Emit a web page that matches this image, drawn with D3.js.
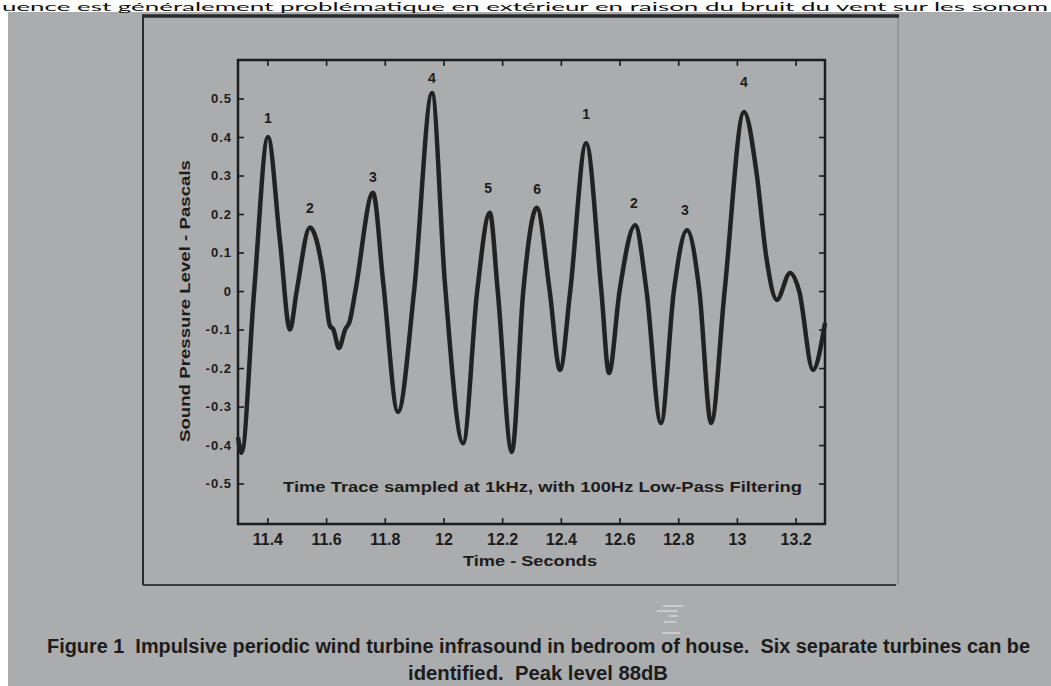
<!DOCTYPE html>
<html>
<head>
<meta charset="utf-8">
<script src="https://cdn.jsdelivr.net/npm/d3@7"></script>
<style>
  body { margin: 0; background: #fff; }
  svg text { font-family: "Liberation Sans", Arial, sans-serif; font-weight: bold; fill: #1c1c1c; }
</style>
</head>
<body>
<div id="chart"></div>
<script>
// values
var timeSec = [11.300, 11.312, 11.355, 11.402, 11.443, 11.477, 11.500, 11.545, 11.589, 11.613,
  11.625, 11.644, 11.665, 11.680, 11.700, 11.760, 11.795, 11.845, 11.900, 11.961,
  12.005, 12.067, 12.115, 12.158, 12.185, 12.233, 12.272, 12.318, 12.362, 12.397,
  12.432, 12.486, 12.538, 12.564, 12.600, 12.653, 12.692, 12.741, 12.785, 12.830,
  12.872, 12.912, 12.958, 13.024, 13.067, 13.100, 13.136, 13.181, 13.212, 13.259, 13.300];
var pressure = [-0.38, -0.42, 0.00, 0.40, 0.13, -0.10, 0.00, 0.165, 0.05, -0.09,
  -0.10, -0.148, -0.10, -0.08, 0.00, 0.255, 0.02, -0.314, 0.00, 0.514,
  0.02, -0.395, 0.00, 0.203, 0.00, -0.418, 0.00, 0.216, 0.00, -0.205,
  0.00, 0.384, 0.00, -0.213, 0.00, 0.171, 0.00, -0.343, 0.00, 0.158,
  0.00, -0.343, 0.00, 0.465, 0.306, 0.088, -0.023, 0.047, 0.00, -0.205, -0.083];

var peakNames = ["1", "2", "3", "4", "5", "6", "1", "2", "3", "4"];
var peakTime = [11.402, 11.545, 11.760, 11.961, 12.152, 12.319, 12.486, 12.649, 12.823, 13.024];
var peakLabelLevel = [0.449, 0.216, 0.296, 0.553, 0.268, 0.265, 0.460, 0.229, 0.210, 0.543];

var xTicks = [11.4, 11.6, 11.8, 12, 12.2, 12.4, 12.6, 12.8, 13, 13.2];
var xTickLabels = ["11.4", "11.6", "11.8", "12", "12.2", "12.4", "12.6", "12.8", "13", "13.2"];
var yTicks = [0.5, 0.4, 0.3, 0.2, 0.1, 0, -0.1, -0.2, -0.3, -0.4, -0.5];
var yTickLabels = ["0.5", "0.4", "0.3", "0.2", "0.1", "0", "-0.1", "-0.2", "-0.3", "-0.4", "-0.5"];

var svgWidth = 1051;
var svgHeight = 686;
var ink = "#1c1c1c";
var paper = "#aaacae";

var svg = d3.select("#chart")
  .append("svg")
  .attr("width", svgWidth)
  .attr("height", svgHeight);

// scanned page
svg.append("rect")
  .attr("x", 8)
  .attr("y", 12)
  .attr("width", svgWidth - 8)
  .attr("height", svgHeight - 12)
  .attr("fill", paper);

// page text above the scan
svg.append("text")
  .attr("x", 2)
  .attr("y", 11)
  .attr("textLength", 1046)
  .attr("lengthAdjust", "spacingAndGlyphs")
  .style("font-family", "Lato, 'Open Sans', sans-serif")
  .style("font-weight", "normal")
  .style("font-size", "12px")
  .style("fill", "#111")
  .text("uence est généralement problématique en extérieur en raison du bruit du vent sur les sonom");

// outer figure frame
svg.append("line").attr("x1", 898).attr("x2", 898).attr("y1", 16).attr("y2", 585)
  .attr("stroke", "#8c8e90").attr("stroke-width", 1.5);
svg.append("line").attr("x1", 143).attr("x2", 143).attr("y1", 16).attr("y2", 585)
  .attr("stroke", "#2a2a2a").attr("stroke-width", 2);
svg.append("line").attr("x1", 143).attr("x2", 896).attr("y1", 585).attr("y2", 585)
  .attr("stroke", "#3a3a3a").attr("stroke-width", 2);
svg.append("line").attr("x1", 142).attr("x2", 899).attr("y1", 16).attr("y2", 16)
  .attr("stroke", "#2a2a2a").attr("stroke-width", 3.5);

// scales
var x = d3.scaleLinear().domain([11.3, 13.3]).range([238, 825]);
var y = d3.scaleLinear().domain([-0.605, 0.6]).range([524, 60]);

// axes with inward ticks
var bottomAxis = d3.axisBottom(x).tickValues(xTicks)
  .tickFormat(function(d, i) { return xTickLabels[i]; })
  .tickSizeInner(-6).tickSizeOuter(0).tickPadding(10);
var topAxis = d3.axisTop(x).tickValues(xTicks).tickFormat("")
  .tickSizeInner(-6).tickSizeOuter(0);
var leftAxis = d3.axisLeft(y).tickValues(yTicks)
  .tickFormat(function(d, i) { return yTickLabels[i]; })
  .tickSizeInner(-6).tickSizeOuter(0).tickPadding(6);
var rightAxis = d3.axisRight(y).tickValues(yTicks).tickFormat("")
  .tickSizeInner(-6).tickSizeOuter(0);

var gb = svg.append("g").attr("transform", "translate(0," + 524 + ")").call(bottomAxis);
var gt = svg.append("g").attr("transform", "translate(0," + 60 + ")").call(topAxis);
var gl = svg.append("g").attr("transform", "translate(" + 238 + ",0)").call(leftAxis);
var gr = svg.append("g").attr("transform", "translate(" + 825 + ",0)").call(rightAxis);

[gb, gt, gl, gr].forEach(function(g) {
  g.select(".domain").remove();
  g.selectAll(".tick line").attr("stroke", ink).attr("stroke-width", 1.6);
  g.selectAll("text").style("fill", ink);
});
gb.selectAll("text").style("font-size", "16px").style("font-family", "'Liberation Sans', Arial, sans-serif").style("font-weight", "bold");
gl.selectAll("text").style("font-size", "13px").style("letter-spacing", "1px")
  .style("font-family", "'Liberation Sans', Arial, sans-serif").style("font-weight", "bold");

// plot frame
svg.append("rect")
  .attr("x", 238).attr("y", 60)
  .attr("width", 825 - 238).attr("height", 524 - 60)
  .attr("fill", "none")
  .attr("stroke", ink)
  .attr("stroke-width", 2.5);

// pressure trace
var trace = timeSec.map(function(t, i) { return [t, pressure[i]]; });
var line = d3.line()
  .x(function(d) { return x(d[0]); })
  .y(function(d) { return y(d[1]); })
  .curve(d3.curveMonotoneX);

svg.append("path")
  .datum(trace)
  .attr("d", line)
  .attr("fill", "none")
  .attr("stroke", "#222")
  .attr("stroke-width", 4.5)
  .attr("stroke-linejoin", "round");

// turbine peak numbers
svg.selectAll(".peak")
  .data(peakNames)
  .enter()
  .append("text")
  .attr("class", "peak")
  .attr("x", function(d, i) { return x(peakTime[i]); })
  .attr("y", function(d, i) { return y(peakLabelLevel[i]); })
  .attr("dy", "0.35em")
  .attr("text-anchor", "middle")
  .style("font-size", "14px")
  .text(function(d) { return d; });

// annotation inside the plot
svg.append("text")
  .attr("x", 283)
  .attr("y", 492)
  .attr("textLength", 519)
  .attr("lengthAdjust", "spacingAndGlyphs")
  .style("font-size", "14px")
  .text("Time Trace sampled at 1kHz, with 100Hz Low-Pass Filtering");

// axis titles
svg.append("text")
  .attr("x", 530)
  .attr("y", 566)
  .attr("text-anchor", "middle")
  .attr("textLength", 134)
  .attr("lengthAdjust", "spacingAndGlyphs")
  .style("font-size", "15px")
  .text("Time - Seconds");

svg.append("text")
  .attr("transform", "translate(190,301) rotate(-90)")
  .attr("text-anchor", "middle")
  .attr("textLength", 282)
  .attr("lengthAdjust", "spacingAndGlyphs")
  .style("font-size", "14px")
  .text("Sound Pressure Level - Pascals");

// caption
svg.append("text")
  .attr("x", 47)
  .attr("y", 653)
  .attr("textLength", 983)
  .attr("lengthAdjust", "spacingAndGlyphs")
  .style("white-space", "pre")
  .style("font-family", "'Liberation Sans Narrow', 'Liberation Sans', sans-serif")
  .style("font-size", "20px")
  .text("Figure 1  Impulsive periodic wind turbine infrasound in bedroom of house.  Six separate turbines can be");

svg.append("text")
  .attr("x", 408)
  .attr("y", 680)
  .attr("textLength", 260)
  .attr("lengthAdjust", "spacingAndGlyphs")
  .style("white-space", "pre")
  .style("font-family", "'Liberation Sans Narrow', 'Liberation Sans', sans-serif")
  .style("font-size", "20px")
  .text("identified.  Peak level 88dB");

// small white scanning marks under the figure
var marks = svg.append("g").attr("stroke", "#e8e8e8").attr("stroke-width", 1);
marks.append("line").attr("x1", 663).attr("x2", 683).attr("y1", 606).attr("y2", 606);
marks.append("line").attr("x1", 657).attr("x2", 678).attr("y1", 611).attr("y2", 611);
marks.append("line").attr("x1", 669).attr("x2", 678).attr("y1", 616).attr("y2", 616);
marks.append("line").attr("x1", 664).attr("x2", 676).attr("y1", 622).attr("y2", 622);
marks.append("line").attr("x1", 662).attr("x2", 680).attr("y1", 633).attr("y2", 633);
</script>
</body>
</html>
